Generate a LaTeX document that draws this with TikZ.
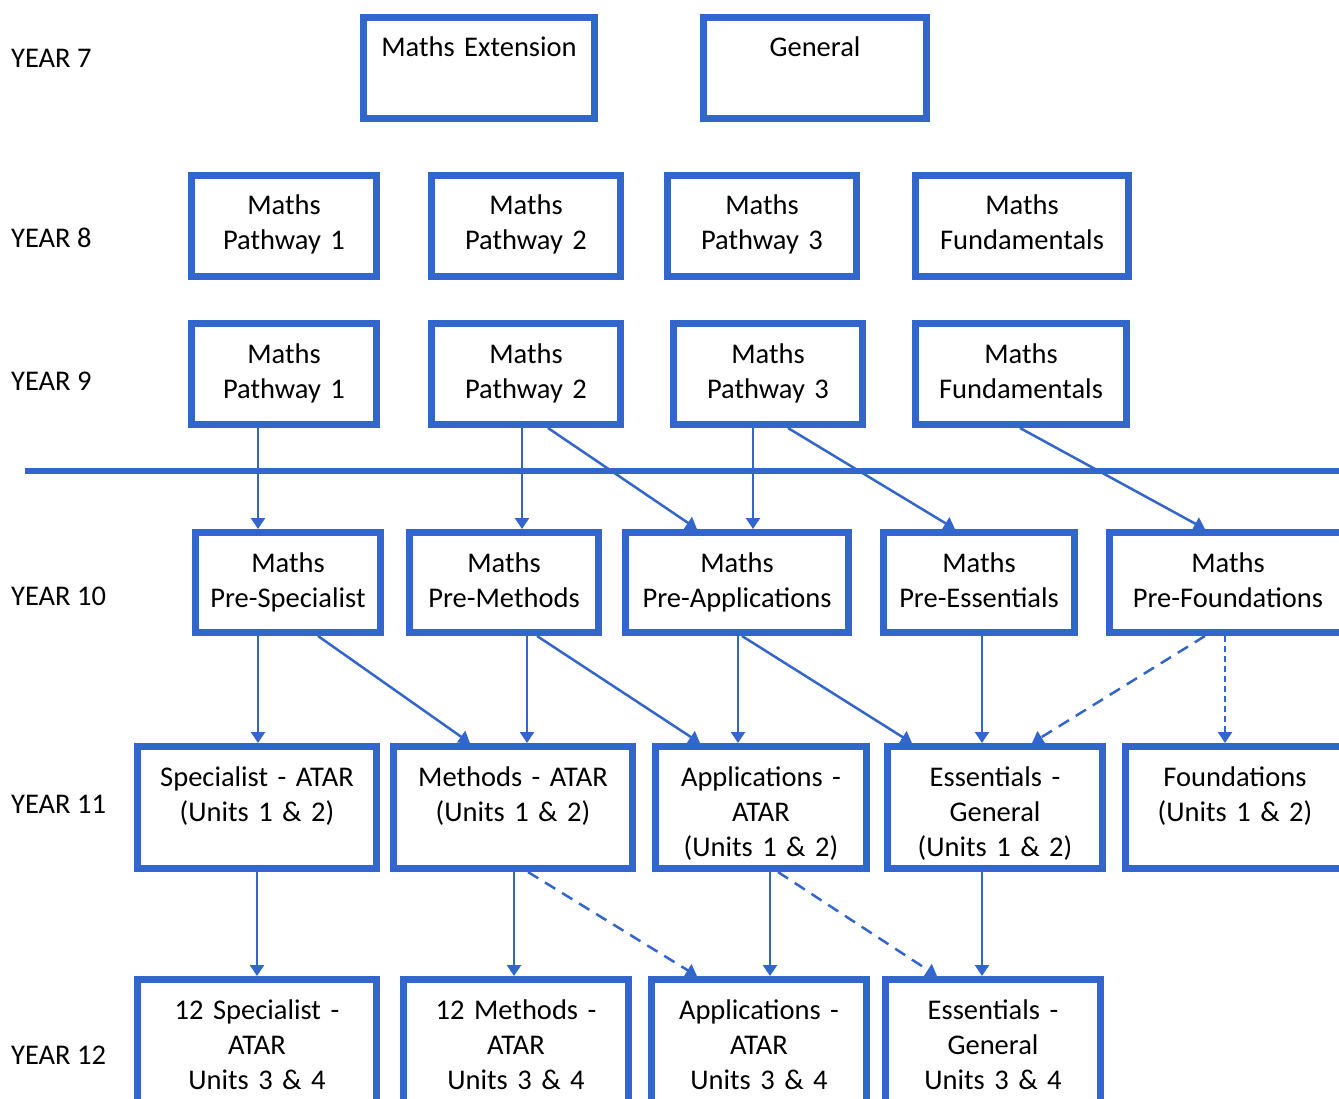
\documentclass[tikz,border=0pt]{standalone}
\usepackage{fontspec}
\setmainfont{Carlito}
\usetikzlibrary{arrows.meta}
\definecolor{pathblue}{RGB}{51,102,204}

\begin{document}
\begin{tikzpicture}[x=1pt,y=-1pt]
        % Define the styles for the nodes and links
        \tikzset{
          box/.style={draw=pathblue,line width=7pt,inner sep=0pt,align=center,
            text height=39.5pt,font=\fontsize{28.5}{35}\selectfont},
          yearlabel/.style={anchor=base west,inner sep=0pt,font=\fontsize{28.5}{35}\selectfont},
          link/.style={draw=pathblue,line width=2.5pt,-{Triangle[width=14pt,length=11pt]}},
          maybe/.style={link,dash pattern=on 12pt off 8pt},
          maybeshort/.style={link,dash pattern=on 6pt off 4pt}
        }

        \useasboundingbox (0,0) rectangle (1339,1099);
        \clip (0,0) rectangle (1339,1099);

        % Year labels
        \node[yearlabel] (lab7) at (11,68) {YEAR 7};
        \node[yearlabel] (lab8) at (11,247.5) {YEAR 8};
        \node[yearlabel] (lab9) at (11,390) {YEAR 9};
        \node[yearlabel] (lab10) at (11,605) {YEAR 10};
        \node[yearlabel] (lab11) at (11,813) {YEAR 11};
        \node[yearlabel] (lab12) at (11,1064) {YEAR 12};

        % Year 7
        \node[box,text width=231pt,text depth=61.5pt] (y7a) at (479,68) {Maths Extension};
        \node[box,text width=223pt,text depth=61.5pt] (y7b) at (815,68) {General};

        % Year 8
        \node[box,text width=185pt,text depth=61.5pt] (y8a) at (284,226) {Maths\\Pathway 1};
        \node[box,text width=189pt,text depth=61.5pt] (y8b) at (526,226) {Maths\\Pathway 2};
        \node[box,text width=189pt,text depth=61.5pt] (y8c) at (762,226) {Maths\\Pathway 3};
        \node[box,text width=213pt,text depth=61.5pt] (y8d) at (1022,226) {Maths\\Fundamentals};

        % Year 9
        \node[box,text width=185pt,text depth=61.5pt] (y9a) at (284,374) {Maths\\Pathway 1};
        \node[box,text width=189pt,text depth=61.5pt] (y9b) at (526,374) {Maths\\Pathway 2};
        \node[box,text width=189pt,text depth=61.5pt] (y9c) at (768,374) {Maths\\Pathway 3};
        \node[box,text width=211pt,text depth=61.5pt] (y9d) at (1021,374) {Maths\\Fundamentals};

        % Split line
        \coordinate (splitL) at (25,471);
        \coordinate (splitR) at (1339,471);
        \draw[pathblue,line width=5.5pt] (splitL) -- (splitR);

        % Year 10
        \node[box,text width=185pt,text depth=60.5pt] (y10a) at (288,582.5) {Maths\\Pre-Specialist};
        \node[box,text width=189pt,text depth=60.5pt] (y10b) at (504,582.5) {Maths\\Pre-Methods};
        \node[box,text width=223pt,text depth=60.5pt] (y10c) at (737,582.5) {Maths\\Pre-Applications};
        \node[box,text width=191pt,text depth=60.5pt] (y10d) at (979,582.5) {Maths\\Pre-Essentials};
        \node[box,text width=237pt,text depth=60.5pt] (y10e) at (1228,582.5) {Maths\\Pre-Foundations};

        % Year 11
        \node[box,text width=239pt,text depth=82.5pt] (y11a) at (257,807.5) {Specialist - ATAR\\(Units 1 \& 2)};
        \node[box,text width=239pt,text depth=82.5pt] (y11b) at (513,807.5) {Methods - ATAR\\(Units 1 \& 2)};
        \node[box,text width=211pt,text depth=82.5pt] (y11c) at (761,807.5) {Applications -\\ATAR\\(Units 1 \& 2)};
        \node[box,text width=215pt,text depth=82.5pt] (y11d) at (995,807.5) {Essentials -\\General\\(Units 1 \& 2)};
        \node[box,text width=219pt,text depth=82.5pt] (y11e) at (1235,807.5) {Foundations\\(Units 1 \& 2)};

        % Year 12
        \node[box,text width=239pt,text depth=93.5pt] (y12a) at (257,1046) {12 Specialist -\\ATAR\\Units 3 \& 4};
        \node[box,text width=225pt,text depth=93.5pt] (y12b) at (516,1046) {12 Methods -\\ATAR\\Units 3 \& 4};
        \node[box,text width=215pt,text depth=93.5pt] (y12c) at (759,1046) {Applications -\\ATAR\\Units 3 \& 4};
        \node[box,text width=215pt,text depth=93.5pt] (y12d) at (993,1046) {Essentials -\\General\\Units 3 \& 4};

        % Links from year 9 to year 10
        \draw[link] ([xshift=-26pt]y9a.south) -- ([xshift=-30pt]y10a.north);
        \draw[link] ([xshift=-4pt]y9b.south) -- ([xshift=18pt]y10b.north);
        \draw[link] ([xshift=22pt]y9b.south) -- ([xshift=-40pt]y10c.north);
        \draw[link] ([xshift=-15pt]y9c.south) -- ([xshift=16pt]y10c.north);
        \draw[link] ([xshift=20pt]y9c.south) -- ([xshift=-24pt]y10d.north);
        \draw[link] ([xshift=-1pt]y9d.south) -- ([xshift=-23pt]y10e.north);

        % Links from year 10 to year 11
        \draw[link] ([xshift=-30pt]y10a.south) -- ([xshift=1pt]y11a.north);
        \draw[link] ([xshift=30pt]y10a.south) -- ([xshift=-43pt]y11b.north);
        \draw[link] ([xshift=23pt]y10b.south) -- ([xshift=14pt]y11b.north);
        \draw[link] ([xshift=33pt]y10b.south) -- ([xshift=-61pt]y11c.north);
        \draw[link] ([xshift=1pt]y10c.south) -- ([xshift=-23pt]y11c.north);
        \draw[link] ([xshift=5pt]y10c.south) -- ([xshift=-83pt]y11d.north);
        \draw[link] ([xshift=3pt]y10d.south) -- ([xshift=-13pt]y11d.north);
        \draw[maybe] ([xshift=-23pt]y10e.south) -- ([xshift=37pt]y11d.north);
        \draw[maybeshort] ([xshift=-3pt]y10e.south) -- ([xshift=-10pt]y11e.north);

        % Links from year 11 to year 12
        \draw[link] (y11a.south) -- (y12a.north);
        \draw[link] ([xshift=1pt]y11b.south) -- ([xshift=-2pt]y12b.north);
        \draw[maybe] ([xshift=15pt]y11b.south) -- ([xshift=-62pt]y12c.north);
        \draw[link] ([xshift=9pt]y11c.south) -- ([xshift=11pt]y12c.north);
        \draw[maybe] ([xshift=17pt]y11c.south) -- ([xshift=-56pt]y12d.north);
        \draw[link] ([xshift=-13pt]y11d.south) -- ([xshift=-11pt]y12d.north);
    \end{tikzpicture}
\end{document}
